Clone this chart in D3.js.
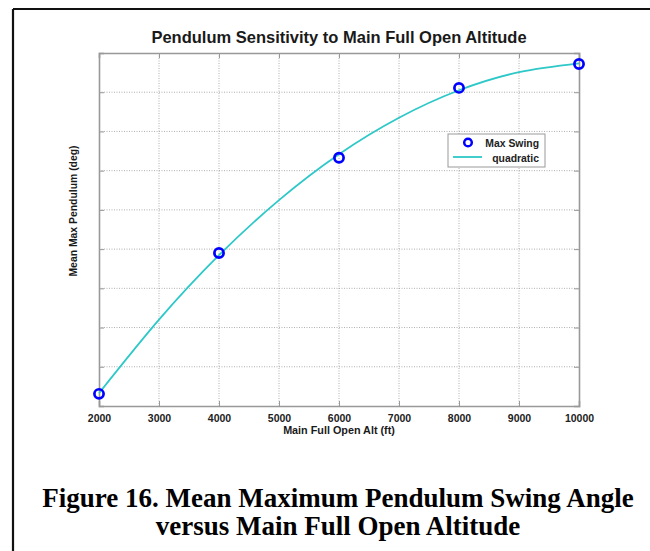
<!DOCTYPE html>
<html>
<head>
<meta charset="utf-8">
<script src="https://cdn.jsdelivr.net/npm/d3@7"></script>
<style>
  html, body { margin: 0; padding: 0; background: #fff; }
  svg { display: block; }
</style>
</head>
<body>
<svg id="chart" width="650" height="551"></svg>
<script>
// ---- Data ----
const altitudes = [2000, 4000, 6000, 8000, 10000];           // Main full open altitude (ft)
const maxSwing = [10.62, 17.80, 22.66, 26.22, 27.44];        // mean max pendulum (deg)
const fitAltitudes = [2000, 3000, 4000, 5000, 6000, 7000, 8000, 9000, 10000];
const fitValues = [10.65, 14.40, 17.69, 20.50, 22.84, 24.70, 26.10, 27.02, 27.47]; // quadratic fit curve
const xTicks = [2000, 3000, 4000, 5000, 6000, 7000, 8000, 9000, 10000];
const yTicks = [10, 12, 14, 16, 18, 20, 22, 24, 26, 28];
const legendLabels = ["Max Swing", "quadratic"];

const svg = d3.select("#chart");
const W = 650, H = 551;

// outer frame (top and left rules)
svg.append("line").attr("x1", 13).attr("y1", 9).attr("x2", W).attr("y2", 9)
  .attr("stroke", "#111").attr("stroke-width", 2.2);
svg.append("line").attr("x1", 13).attr("y1", 9).attr("x2", 13).attr("y2", H)
  .attr("stroke", "#111").attr("stroke-width", 2.2);

const plot = { left: 99, top: 53, right: 579, bottom: 406 };

const x = d3.scaleLinear().domain([2000, 10000]).range([plot.left, plot.right]);
const y = d3.scaleLinear().domain([10, 28]).range([plot.bottom, plot.top]);

// gridlines
const grid = svg.append("g");
grid.selectAll(".vg").data(xTicks.slice(1, -1)).join("line")
  .attr("x1", d => x(d)).attr("x2", d => x(d))
  .attr("y1", plot.top).attr("y2", plot.bottom)
  .attr("stroke", "#9a9a9a").attr("stroke-width", 0.8).attr("stroke-dasharray", "1,1.5");
grid.selectAll(".hg").data(yTicks.slice(1, -1)).join("line")
  .attr("x1", plot.left).attr("x2", plot.right)
  .attr("y1", d => y(d)).attr("y2", d => y(d))
  .attr("stroke", "#9a9a9a").attr("stroke-width", 0.8).attr("stroke-dasharray", "1,1.5");

// axes (ticks inward, MATLAB style)
const axColor = "#999";
const xb = svg.append("g").attr("transform", `translate(0,${plot.bottom})`)
  .call(d3.axisBottom(x).tickValues(xTicks).tickSize(-5).tickPadding(9).tickFormat(d3.format("d")));
const xt = svg.append("g").attr("transform", `translate(0,${plot.top})`)
  .call(d3.axisTop(x).tickValues(xTicks).tickSize(-5).tickFormat(""));
const yl = svg.append("g").attr("transform", `translate(${plot.left},0)`)
  .call(d3.axisLeft(y).tickValues(yTicks).tickSize(-5).tickFormat(""));
const yr = svg.append("g").attr("transform", `translate(${plot.right},0)`)
  .call(d3.axisRight(y).tickValues(yTicks).tickSize(-5).tickFormat(""));
[xb, xt, yl, yr].forEach(g => {
  g.select(".domain").attr("stroke", axColor).attr("stroke-width", 1.6);
  g.selectAll(".tick line").attr("stroke", axColor).attr("stroke-width", 1);
});
xb.selectAll(".tick text")
  .attr("font-family", "Liberation Sans, Arial, sans-serif")
  .attr("font-weight", "bold").attr("font-size", 10.5).attr("fill", "#222");

// quadratic curve
const line = d3.line().x(d => x(d[0])).y(d => y(d[1])).curve(d3.curveNatural);
svg.append("path")
  .datum(fitAltitudes.map((a, i) => [a, fitValues[i]]))
  .attr("d", line).attr("fill", "none")
  .attr("stroke", "#2ec8c8").attr("stroke-width", 1.8);

// markers
svg.selectAll(".pt").data(altitudes.map((a, i) => [a, maxSwing[i]])).join("circle")
  .attr("cx", d => x(d[0])).attr("cy", d => y(d[1])).attr("r", 4.6)
  .attr("fill", "none").attr("stroke", "#0000ff").attr("stroke-width", 2.7);

// title
svg.append("text").attr("x", 339).attr("y", 43).attr("text-anchor", "middle")
  .attr("font-family", "Liberation Sans, Arial, sans-serif").attr("font-weight", "bold")
  .attr("font-size", 16.5).attr("fill", "#1a1a1a")
  .text("Pendulum Sensitivity to Main Full Open Altitude");

// axis labels
svg.append("text").attr("x", 339).attr("y", 434).attr("text-anchor", "middle")
  .attr("font-family", "Liberation Sans, Arial, sans-serif").attr("font-weight", "bold")
  .attr("font-size", 10.8).attr("fill", "#1a1a1a")
  .text("Main Full Open Alt (ft)");
svg.append("text").attr("transform", "translate(77,211) rotate(-90)").attr("text-anchor", "middle")
  .attr("font-family", "Liberation Sans, Arial, sans-serif").attr("font-weight", "bold")
  .attr("font-size", 10.4).attr("fill", "#1a1a1a")
  .text("Mean Max Pendulum (deg)");

// legend
const lg = svg.append("g");
lg.append("rect").attr("x", 448).attr("y", 134).attr("width", 97).attr("height", 33)
  .attr("fill", "#fff").attr("stroke", "#999").attr("stroke-width", 1);
lg.append("circle").attr("cx", 468).attr("cy", 142.5).attr("r", 3.8)
  .attr("fill", "none").attr("stroke", "#0000ff").attr("stroke-width", 2.5);
lg.append("line").attr("x1", 453).attr("x2", 482).attr("y1", 157).attr("y2", 157)
  .attr("stroke", "#2ec8c8").attr("stroke-width", 1.8);
lg.selectAll(".lt").data(legendLabels).join("text")
  .attr("x", 539).attr("y", (d, i) => 146.5 + i * 15).attr("text-anchor", "end")
  .attr("font-family", "Liberation Sans, Arial, sans-serif").attr("font-weight", "bold")
  .attr("font-size", 10.4).attr("fill", "#222").text(d => d);

// caption
const cap = ["Figure 16. Mean Maximum Pendulum Swing Angle", "versus Main Full Open Altitude"];
svg.selectAll(".cap").data(cap).join("text")
  .attr("x", 338).attr("y", (d, i) => 507 + i * 28).attr("text-anchor", "middle")
  .attr("font-family", "Liberation Serif, Times New Roman, serif").attr("font-weight", "bold")
  .attr("font-size", 27).attr("fill", "#000").text(d => d);
</script>
</body>
</html>
